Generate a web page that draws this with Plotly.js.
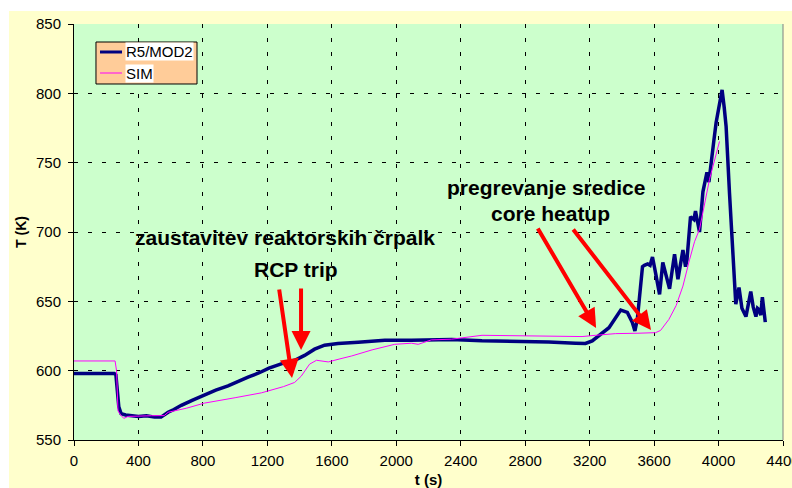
<!DOCTYPE html>
<html>
<head>
<meta charset="utf-8">
<script src="https://cdn.plot.ly/plotly-3.0.1.min.js"></script>
<style>
html,body{margin:0;padding:0;background:#ffffff;}
#chart{position:absolute;left:9px;top:11px;width:783px;height:477px;}
</style>
</head>
<body>
<div id="chart"></div>
<script>
// R5/MOD2 series
const r5Time = [0, 100, 200, 250, 260, 268, 278, 292, 320, 360, 400, 450, 500, 540, 584, 620, 666, 740, 809, 880, 956, 1020, 1080, 1150, 1210, 1313, 1370, 1431, 1493, 1555, 1638, 1764, 1929, 2094, 2343, 2532, 2700, 2946, 3112, 3174, 3216, 3257, 3320, 3393, 3434, 3465, 3481, 3496, 3506, 3518, 3528, 3540, 3560, 3575, 3590, 3610, 3634, 3654, 3675, 3696, 3712, 3727, 3748, 3765, 3779, 3795, 3804, 3826, 3847, 3857, 3882, 3903, 3915, 3928, 3940, 3954, 3970, 3985, 4005, 4022, 4035, 4047, 4068, 4089, 4107, 4127, 4145, 4170, 4185, 4200, 4215, 4232, 4242, 4252, 4262, 4272, 4290];
const r5Temp = [598, 598, 598, 598, 597, 588, 574, 569, 568, 567.5, 567, 567.5, 566.5, 566.5, 570, 572, 575, 579, 582.5, 586, 589, 592.5, 595.3, 598.5, 601.8, 606, 607.5, 611, 615.5, 618.4, 619.6, 620.5, 622, 622, 622.5, 621.5, 621.2, 620.7, 619.8, 619.6, 621.5, 625.5, 631, 643.7, 642, 634.8, 628.6, 637, 651, 662, 675, 676, 677, 676, 682, 670, 655, 678, 668, 659, 672, 684, 666, 676, 687, 675, 680, 711, 709, 715, 700, 729, 735, 743, 736, 752, 765, 779, 791, 802.5, 790, 776, 728, 680, 648, 660, 645, 639, 650, 657, 646, 639, 645, 644, 640, 653, 635];

// SIM series
const simTime = [0, 100, 200, 255, 264, 273, 290, 309, 336, 400, 480, 560, 584, 700, 809, 1000, 1163, 1300, 1369, 1410, 1440, 1462, 1505, 1540, 1578, 1650, 1723, 1850, 1990, 2094, 2136, 2218, 2343, 2532, 2750, 2946, 3153, 3236, 3360, 3500, 3609, 3640, 3692, 3737, 3779, 3820, 3851, 3882, 3944, 4006];
const simTemp = [607, 607, 607, 607, 600, 571, 568, 565.6, 567, 567, 567.5, 567.6, 570, 573, 576.6, 580.5, 584, 588.5, 591.5, 596, 601, 604.7, 607.5, 607, 606.3, 608.5, 610.6, 615, 619, 619.8, 619, 622.2, 622.7, 625.5, 625, 624.6, 624.6, 625.5, 626.7, 627, 627.4, 629, 637, 647, 661, 680, 693, 702, 738, 765.3];

// Axis ticks
const xTicks = [0, 400, 800, 1200, 1600, 2000, 2400, 2800, 3200, 3600, 4000, 4400];
const yTicks = [550, 600, 650, 700, 750, 800, 850];

// Annotation texts
const labels = ['zaustavitev reaktorskih črpalk', 'RCP trip', 'pregrevanje sredice', 'core heatup'];

const seriesColors = ['#000080', '#FF00FF'];
const seriesWidths = [3.5, 1];

const traces = [
  {x: r5Time, y: r5Temp, name: 'R5/MOD2', mode: 'lines', line: {color: seriesColors[0], width: seriesWidths[0]}},
  {x: simTime, y: simTemp, name: 'SIM', mode: 'lines', line: {color: seriesColors[1], width: seriesWidths[1]}}
];

const FONT = 'Arial, "Liberation Sans", sans-serif';
const textFont = {family: FONT, size: 21, color: '#000000'};
function txt(t, x, y) {
  return {text: '<b>' + t + '</b>', x: x, y: y, xref: 'x', yref: 'y', showarrow: false, font: textFont};
}
function arrow(x0, y0, x1, y1) {
  return {text: '', x: x1, y: y1, ax: x0, ay: y0, xref: 'x', yref: 'y', axref: 'x', ayref: 'y',
    showarrow: true, arrowhead: 2, arrowsize: 0.95, arrowwidth: 4, arrowcolor: '#FF0000', standoff: 0};
}

// manual legend (Excel style)
const legBox = {x0: 0.031, x1: 0.1735, y0: 0.8558, y1: 0.9567};
const legRows = [0.9327, 0.8822];
const legShapes = [
  {type: 'rect', xref: 'paper', yref: 'paper', x0: legBox.x0, x1: legBox.x1, y0: legBox.y0, y1: legBox.y1,
   fillcolor: '#FFCC99', line: {color: '#000000', width: 1}}
];
const legAnn = [];
traces.forEach((tr, i) => {
  legShapes.push({type: 'line', xref: 'paper', yref: 'paper', x0: 0.0367, x1: 0.0677, y0: legRows[i], y1: legRows[i],
    line: {color: seriesColors[i], width: seriesWidths[i] === 1 ? 1 : 3}});
  legAnn.push({text: tr.name, x: 0.0715, y: legRows[i], xref: 'paper', yref: 'paper', xanchor: 'left', yanchor: 'middle',
    showarrow: false, bgcolor: '#FFFFFF', borderpad: 0, font: {family: FONT, size: 15, color: '#000000'}});
});

const layout = {
  width: 783, height: 477,
  paper_bgcolor: '#FFFFCC',
  plot_bgcolor: '#CCFFCC',
  margin: {l: 65, r: 9, t: 13, b: 48},
  font: {family: FONT, color: '#000000'},
  showlegend: false,
  xaxis: {
    range: [0, 4400], tickvals: xTicks, ticktext: xTicks.map(String),
    showline: true, linecolor: '#000000', linewidth: 1,
    ticks: 'outside', ticklen: 5, tickcolor: '#000000',
    showgrid: true, gridcolor: '#000000', gridwidth: 1, griddash: '4px,10px',
    zeroline: false, tickfont: {size: 15}, ticklabeloverflow: 'allow', ticklabelstandoff: 2,
    title: {text: '<b>t (s)</b>', font: {size: 15}, standoff: 6}
  },
  yaxis: {
    range: [550, 850], tickvals: yTicks, ticktext: yTicks.map(String),
    showline: true, linecolor: '#000000', linewidth: 1,
    ticks: 'outside', ticklen: 5, tickcolor: '#000000',
    showgrid: true, gridcolor: '#000000', gridwidth: 1, griddash: '4px,10px',
    zeroline: false, tickfont: {size: 15}, ticklabelstandoff: 4,
    title: {text: '<b>T (K)</b>', font: {size: 14}, standoff: 6}
  },
  shapes: [
    {type: 'line', xref: 'paper', yref: 'paper', x0: 1, x1: 1, y0: 0, y1: 1, line: {color: '#808080', width: 1}}
  ].concat(legShapes),
  annotations: [
    txt(labels[0], 1309, 695.7),
    txt(labels[1], 1378, 673.3),
    txt(labels[2], 2932, 732.4),
    txt(labels[3], 2954, 713.7),
    arrow(1272, 659.6, 1353, 594.7),
    arrow(1409, 660.3, 1409, 614.9),
    arrow(2873, 703.6, 3240, 630.8),
    arrow(3091, 702.9, 3581, 629.3)
  ].concat(legAnn)
};

Plotly.newPlot('chart', traces, layout, {displayModeBar: false, staticPlot: true});
</script>
</body>
</html>
